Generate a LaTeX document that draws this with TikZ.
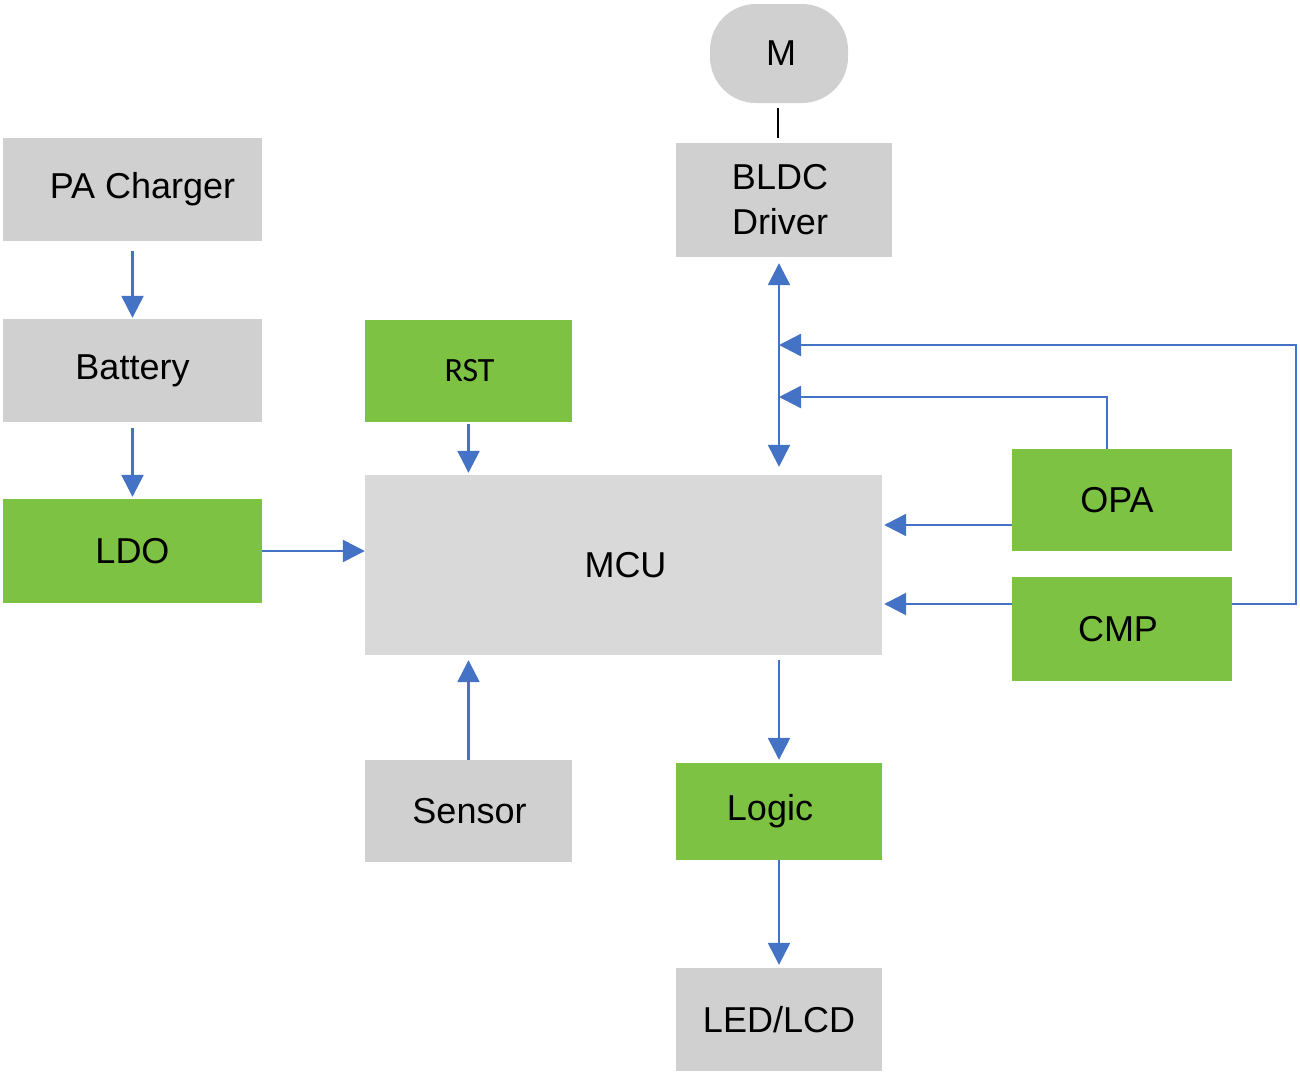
\documentclass[tikz,border=0pt]{standalone}
\usepackage{fontspec}
\setmainfont{Liberation Sans}
\newfontfamily\calfont{Carlito}
\usetikzlibrary{arrows.meta}
\definecolor{boxgray}{HTML}{D0D0D0}
\definecolor{mcugray}{HTML}{D9D9D9}
\definecolor{boxgreen}{HTML}{7DC242}
\definecolor{linkblue}{HTML}{4472C4}
\begin{document}
\begin{tikzpicture}[x=1pt,y=-1pt,
  box/.style={inner sep=0pt, font=\fontsize{36}{45}\selectfont, text=black, align=center},
  gbox/.style={box, fill=boxgray},
  grbox/.style={box, fill=boxgreen},
  arr/.style={draw=linkblue, line width=2.5pt, -{Triangle[length=22pt,width=22pt]}},
  arr2/.style={draw=linkblue, line width=2.5pt, {Triangle[length=22pt,width=22pt]}-{Triangle[length=22pt,width=22pt]}},
  wire/.style={draw=linkblue, line width=2.5pt}
]
\useasboundingbox (0,0) rectangle (1300,1076);
% boxes
\node[gbox, minimum width=259pt, minimum height=103pt] (pa) at (132.5,189.5) {\hspace*{20pt}PA Charger\vphantom{g}};
\node[gbox, minimum width=259pt, minimum height=103pt] (bat) at (132.5,370.5) {Battery};
\node[grbox, minimum width=259pt, minimum height=104pt] (ldo) at (132.5,551) {LDO};
\node[grbox, minimum width=207pt, minimum height=102pt, font=\calfont\fontsize{34}{40}\selectfont] (rst) at (468.5,371) {\hspace*{2pt}RST};
\node[box, fill=mcugray, minimum width=517pt, minimum height=180pt] (mcu) at (623.5,565) {\hspace*{4pt}MCU};
\node[gbox, minimum width=207pt, minimum height=102pt] (sensor) at (468.5,811) {\hspace*{2pt}Sensor};
\node[grbox, minimum width=206pt, minimum height=97pt] (logic) at (779,811.5) {\hspace*{-18pt}Logic};
\node[gbox, minimum width=206pt, minimum height=103pt] (led) at (779,1019.5) {LED/LCD};
\node[gbox, minimum width=216pt, minimum height=114pt] (bldc) at (784,200) {BLDC\hspace*{8pt}\\Driver\hspace*{8pt}};
\node[box, fill=boxgray, minimum width=138pt, minimum height=99pt, rounded corners=46pt] (m) at (779,53.5) {\hspace*{4pt}M};
\node[grbox, minimum width=220pt, minimum height=102pt] (opa) at (1122,500) {OPA\hspace*{10pt}};
\node[grbox, minimum width=220pt, minimum height=104pt] (cmp) at (1122,629) {CMP\hspace*{8pt}};
% helper coordinates
\coordinate (bus) at (779,300);
\coordinate (fbr) at (1296,345);
\coordinate (opt) at (1107,397);
% connectors
\draw[arr, shorten <=10pt, shorten >=1pt] (pa) -- (bat);
\draw[arr, shorten <=6pt, shorten >=2pt] (bat) -- (ldo);
\draw[arr] (ldo.east) -- (ldo.east -| mcu.west);
\draw[arr, shorten <=2pt, shorten >=2pt] (rst.south) -- (rst.south |- mcu.north);
\draw[arr, shorten >=5pt] (sensor.north) -- (sensor.north |- mcu.south);
\draw[arr, shorten <=5pt, shorten >=3pt] (mcu.south -| logic) -- (logic.north);
\draw[arr, shorten >=3pt] (logic.south) -- (led.north);
\draw[arr2, shorten <=6pt, shorten >=8pt] (bldc.south -| bus) -- (mcu.north -| bus);
\draw[black, line width=2.5pt, shorten <=5pt, shorten >=5pt] (m.south -| 778,0) -- (bldc.north -| 778,0);
\draw[arr, shorten >=2pt] ([yshift=-25pt]opa.west) -- ([yshift=-25pt]opa.west -| mcu.east);
\draw[arr, shorten >=2pt] ([yshift=25pt]cmp.west) -- ([yshift=25pt]cmp.west -| mcu.east);
\draw[arr] ([yshift=25pt]cmp.east) -| (fbr) -- (fbr -| bus);
\draw[arr] (opa.north -| opt) -- (opt) -- (opt -| bus);
\end{tikzpicture}
\end{document}
